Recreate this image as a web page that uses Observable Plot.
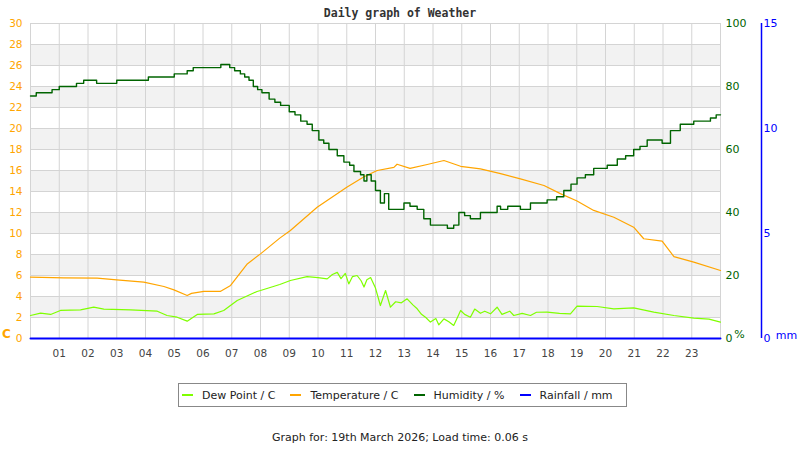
<!DOCTYPE html>
<html><head><meta charset="utf-8">
<script src="https://cdn.jsdelivr.net/npm/d3@7"></script>
<script src="https://cdn.jsdelivr.net/npm/@observablehq/plot@0.6"></script>
<style>
body{margin:0;background:#fff;width:800px;height:450px;overflow:hidden;font-family:"DejaVu Sans",sans-serif;position:relative;}
#title{height:23px;text-align:center;font:bold 11.5px "DejaVu Sans Mono",monospace;color:#333;line-height:26px;}
#chart{height:350px;}
#legend{position:absolute;left:178px;top:383px;width:444px;height:22px;border:1px solid #888;box-sizing:content-box;display:flex;align-items:center;padding-left:3px;font-size:11px;color:#222;white-space:nowrap;}
#legend .item{display:flex;align-items:center;margin-right:15px;}
#legend .sw{display:inline-block;width:11px;height:2px;margin-right:9px;}
#caption{position:absolute;left:0;width:800px;top:431px;text-align:center;font-size:11px;color:#222;line-height:14px;}
</style></head>
<body>
<div id="title">Daily graph of Weather</div>
<div id="chart"></div>
<div id="legend"></div>
<div id="caption">Graph for: 19th March 2026; Load time: 0.06 s</div>
<script>
// ---- data ----
const hourTicks = d3.range(1, 24);
const tempTicks = d3.range(0, 31, 2);
const humTicks = [0, 20, 40, 60, 80, 100];
const rainTicks = [0, 5, 10, 15];

const humHours = [0,0.2,0.75,1.0,1.6,1.85,2.3,3.0,4.1,5.0,5.45,5.66,6.62,6.93,7.1,7.3,7.45,7.6,7.75,7.9,8.05,8.3,8.5,8.7,9.0,9.2,9.4,9.62,9.8,10.03,10.2,10.38,10.55,10.67,10.9,11.1,11.25,11.48,11.6,11.7,11.85,12.0,12.17,12.31,12.46,12.7,12.99,13.2,13.45,13.68,13.91,14.3,14.5,14.72,14.9,15.1,15.3,15.65,16.0,16.23,16.35,16.6,17.04,17.39,17.7,17.97,18.3,18.55,18.8,19.01,19.3,19.59,20.06,20.41,20.7,20.98,21.2,21.45,21.97,22.26,22.6,23.07,23.4,23.65,23.85,24];
const humVals  = [77,78,79,80,81,82,81,82,83,84,85,86,87,86,85,84,83,82,80,79,78,76,75,74,72,71,69,68,66,63,62,60,60,58,56,55,53,52,50,52,50,47,43,46,41,41,43,42,41,38,36,36,35,36,40,39,38,40,40,42,41,42,41,43,43,44,45,47,49,51,52,54,55,57,58,60,61,63,62,66,68,69,69,70,71,71];

const tempHours = [0,1.16,2.32,3.0,3.94,4.64,4.99,5.45,5.6,6.03,6.6,6.96,7.54,8.0,8.67,9.04,9.97,11.0,11.6,12.06,12.64,12.75,13.2,13.8,14.38,14.96,15.65,16.35,17.04,17.86,18.43,19.01,19.59,20.29,20.98,21.33,21.97,22.38,23.07,24];
const tempVals  = [5.84,5.78,5.75,5.59,5.37,4.95,4.63,4.1,4.3,4.48,4.48,5.05,7.1,8.06,9.56,10.29,12.5,14.4,15.4,16.0,16.3,16.6,16.2,16.57,16.95,16.4,16.16,15.7,15.2,14.57,13.8,13.1,12.2,11.55,10.6,9.5,9.27,7.8,7.27,6.48];

const dewHours = [0,0.35,0.7,1.04,1.74,2.2,2.55,3.48,4.41,4.75,5.1,5.45,5.8,6.38,6.72,7.19,7.88,8.0,8.67,9.04,9.62,10.0,10.32,10.5,10.67,10.8,10.95,11.07,11.2,11.36,11.5,11.6,11.7,11.83,12.0,12.17,12.35,12.52,12.7,12.9,13.1,13.3,13.45,13.6,13.75,13.91,14.1,14.2,14.38,14.55,14.72,14.85,14.96,15.1,15.3,15.45,15.65,15.8,16.0,16.23,16.4,16.67,16.81,17.1,17.39,17.6,17.97,18.4,18.78,19.01,19.71,20.29,20.98,21.68,22.38,23.07,23.6,24];
const dewVals  = [2.19,2.41,2.29,2.67,2.73,2.98,2.79,2.73,2.6,2.19,2.03,1.65,2.29,2.35,2.67,3.62,4.48,4.57,5.14,5.52,5.9,5.8,5.68,6.1,6.3,5.7,6.2,5.2,5.9,6.0,5.5,4.9,5.6,5.8,4.8,3.14,4.57,2.98,3.5,3.4,3.78,3.2,2.83,2.3,2.0,1.56,1.9,1.3,1.87,1.6,1.24,2.0,2.67,2.3,2.03,2.8,2.4,2.6,2.35,2.98,2.3,2.6,2.19,2.4,2.19,2.5,2.51,2.4,2.35,3.08,3.05,2.83,2.92,2.51,2.19,1.94,1.85,1.56];

const rainHours = [0, 24];
const rainVals = [0, 0];

const seriesNames = ["Dew Point / C", "Temperature / C", "Humidity / %", "Rainfall / mm"];
const seriesColors = ["#7fff00", "#ffa500", "#006400", "#0000ff"];

// ---- tables ----
const hum = humHours.map((h, i) => ({h, v: humVals[i] * 0.3}));
const temp = tempHours.map((h, i) => ({h, v: tempVals[i]}));
const dew = dewHours.map((h, i) => ({h, v: dewVals[i]}));
const rain = rainHours.map((h, i) => ({h, v: rainVals[i] * 2}));
const bandStarts = tempTicks.filter(t => t % 4 === 2 && t < 30);

const plot = Plot.plot({
  width: 800, height: 350,
  marginTop: 0, marginBottom: 35, marginLeft: 30, marginRight: 80,
  style: {fontFamily: "DejaVu Sans, sans-serif", fontSize: "10.5px", background: "#fff", overflow: "visible"},
  x: {domain: [0, 24]},
  y: {domain: [0, 30]},
  marks: [
    Plot.rect(bandStarts, {x1: () => 0, x2: () => 24, y1: d => d, y2: d => d + 2, fill: "#f2f2f2"}),
    Plot.gridY(tempTicks, {stroke: "#d4d4d4", strokeOpacity: 1}),
    Plot.gridX(hourTicks, {stroke: "#d4d4d4", strokeOpacity: 1}),
    Plot.frame({stroke: "#d4d4d4"}),
    Plot.line(dew, {x: "h", y: "v", stroke: seriesColors[0], strokeWidth: 1.2}),
    Plot.line(temp, {x: "h", y: "v", stroke: seriesColors[1], strokeWidth: 1.2}),
    Plot.line(hum, {x: "h", y: "v", stroke: seriesColors[2], strokeWidth: 1.4, curve: "step-after"}),
    Plot.line(rain, {x: "h", y: "v", stroke: seriesColors[3], strokeWidth: 2}),
    Plot.ruleX([24], {dx: 41, stroke: seriesColors[3], strokeWidth: 1.5}),
    Plot.axisX(hourTicks, {anchor: "bottom", tickSize: 0, tickPadding: 11, color: "#444", fontSize: 10.5, label: null,
      tickFormat: d => String(d).padStart(2, "0")}),
    Plot.axisY(tempTicks, {anchor: "left", tickSize: 0, tickPadding: 8, color: "#ffa500", fontSize: 10.5, label: null}),
    Plot.axisY(humTicks.map(d => d * 0.3), {anchor: "right", tickSize: 0, tickPadding: 5, color: "#006400", fontSize: 11, label: null,
      tickFormat: d => String(Math.round(d / 0.3))}),
    Plot.axisY(rainTicks.map(d => d * 2), {anchor: "right", tickSize: 0, tickPadding: 5, dx: 38, color: "#0000ff", fontSize: 11, label: null,
      tickFormat: d => String(Math.round(d / 2))}),
    Plot.text(["C"], {frameAnchor: "bottom-left", textAnchor: "middle", dx: -24, dy: -1, fill: "#ffa500", fontWeight: "bold", fontSize: 12}),
    Plot.text(["%"], {frameAnchor: "bottom-right", textAnchor: "middle", dx: 19, dy: -1, fill: "#006400", fontSize: 11}),
    Plot.text(["mm"], {frameAnchor: "bottom-right", textAnchor: "middle", dx: 66, dy: 0, fill: "#0000ff", fontSize: 11})
  ]
});
document.getElementById("chart").appendChild(plot);

const legend = document.getElementById("legend");
seriesNames.forEach((name, i) => {
  const item = document.createElement("span");
  item.className = "item";
  const sw = document.createElement("span");
  sw.className = "sw";
  sw.style.background = seriesColors[i];
  item.appendChild(sw);
  item.appendChild(document.createTextNode(name));
  legend.appendChild(item);
});
</script>
</body></html>
